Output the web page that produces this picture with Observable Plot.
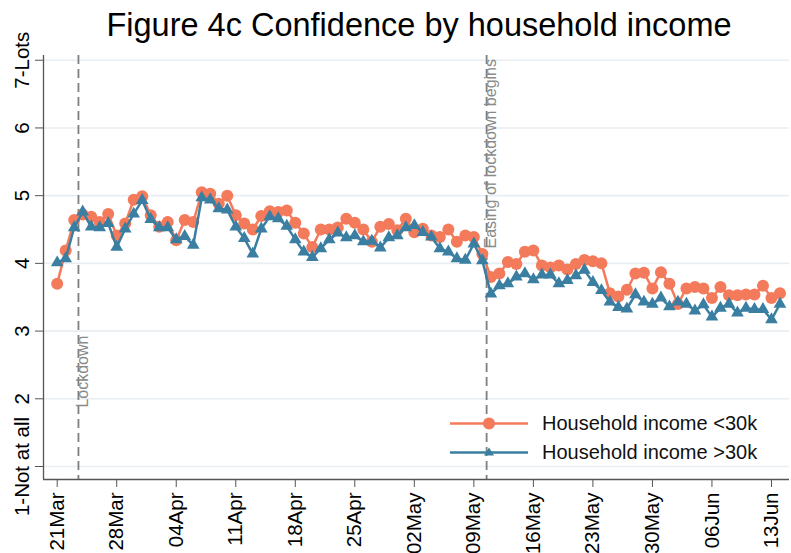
<!DOCTYPE html>
<html><head><meta charset="utf-8">
<script src="https://cdn.jsdelivr.net/npm/d3@7"></script>
<script src="https://cdn.jsdelivr.net/npm/@observablehq/plot@0.6"></script>
<style>
body{margin:0;background:#fff;font-family:"Liberation Sans",Arial,sans-serif;}
#wrap{position:relative;width:791px;height:553px;overflow:hidden;background:#fff;}
#title{height:50px;box-sizing:border-box;padding-top:9px;padding-left:47px;text-align:center;font-size:32.5px;line-height:1;color:#000;white-space:nowrap;}
#legend{position:absolute;left:450px;top:408.5px;font-size:20px;color:#111;}
.row{display:flex;align-items:center;height:29px;}
.row svg{margin-right:14px;}
</style></head><body>
<div id="wrap"><div id="title">Figure 4c Confidence by household income</div><div id="chart"></div><div id="legend"></div></div>
<script>
// ---- data ----
const startDate = "2020-03-21";
const lowIncome = [3.70,4.19,4.64,4.72,4.69,4.61,4.73,4.41,4.59,4.94,4.99,4.71,4.54,4.61,4.34,4.64,4.61,5.05,5.03,4.88,5.00,
  4.71,4.59,4.50,4.70,4.77,4.76,4.78,4.60,4.44,4.24,4.50,4.50,4.53,4.66,4.60,4.50,4.32,4.54,4.58,4.49,4.66,
  4.46,4.51,4.41,4.39,4.50,4.32,4.41,4.39,4.14,3.80,3.85,4.02,3.99,4.17,4.19,3.97,3.94,3.97,3.91,3.99,4.05,
  4.03,4.00,3.56,3.51,3.61,3.85,3.86,3.63,3.87,3.70,3.40,3.63,3.65,3.63,3.49,3.65,3.53,3.53,3.54,3.54,3.67,3.49,3.56];
const highIncome = [4.01,4.07,4.53,4.76,4.54,4.53,4.59,4.24,4.51,4.73,4.93,4.65,4.53,4.53,4.35,4.40,4.27,4.97,4.94,4.81,4.79,
  4.54,4.37,4.14,4.51,4.69,4.66,4.55,4.35,4.17,4.09,4.22,4.35,4.45,4.38,4.41,4.32,4.33,4.23,4.38,4.41,4.53,
  4.56,4.46,4.39,4.22,4.17,4.07,4.05,4.29,4.04,3.55,3.67,3.70,3.80,3.85,3.76,3.83,3.83,3.70,3.75,3.82,3.90,
  3.72,3.60,3.43,3.35,3.33,3.54,3.43,3.40,3.49,3.36,3.43,3.40,3.30,3.39,3.21,3.34,3.40,3.27,3.34,3.32,3.32,3.17,3.40];
const seriesNames = ["Household income <30k", "Household income >30k"];
const seriesColors = ["#f47a5c", "#3a7fa1"];
const yTicks = [1, 2, 3, 4, 5, 6, 7];
const yTickLabels = ["1-Not at all", "2", "3", "4", "5", "6", "7-Lots"];
const xTickDates = ["2020-03-21","2020-03-28","2020-04-04","2020-04-11","2020-04-18","2020-04-25","2020-05-02",
  "2020-05-09","2020-05-16","2020-05-23","2020-05-30","2020-06-06","2020-06-13"];
const eventDates = ["2020-03-23T12:00Z", "2020-05-10T12:00Z"];
const eventLabels = ["Lockdown", "Easing of lockdown begins"];
const eventLabelY = [1.87, 4.22];

// ---- build tables ----
const day0 = new Date(startDate + "T00:00Z");
const rows = [];
[lowIncome, highIncome].forEach((vals, s) => vals.forEach((v, i) => rows.push({date: d3.utcDay.offset(day0, i), value: v, series: seriesNames[s]})));
const low = rows.filter(r => r.series === seriesNames[0]);
const high = rows.filter(r => r.series === seriesNames[1]);
const ticks = xTickDates.map(d => new Date(d + "T00:00Z"));
const events = eventDates.map((d, i) => ({date: new Date(d), label: eventLabels[i], y: eventLabelY[i]}));
const xDomain = [new Date(day0.getTime() - 1.61 * 864e5), new Date(ticks[ticks.length - 1].getTime() + 2.12 * 864e5)];
const yDomain = [0.808, 7.07];
const axisColor = "#555";

const chart = Plot.plot({
  width: 791, height: 503,
  marginLeft: 43, marginRight: 2, marginTop: 5, marginBottom: 74,
  x: {type: "utc", domain: xDomain, axis: null},
  y: {domain: yDomain, axis: null},
  style: {fontFamily: "'Liberation Sans', Arial, sans-serif", background: "white", overflow: "visible"},
  marks: [
    Plot.ruleY(yTicks, {stroke: "#e8eef2", strokeWidth: 1.6}),
    Plot.ruleX(events, {x: "date", stroke: "#7f7f7f", strokeWidth: 1.8, strokeDasharray: "9,5"}),
    Plot.text(events, {x: "date", y: "y", text: "label", rotate: -90, textAnchor: "start", dx: 4, fill: "#8a8a8a", fontSize: 16}),
    Plot.line(low, {x: "date", y: "value", stroke: seriesColors[0], strokeWidth: 2.5}),
    Plot.dot(low, {x: "date", y: "value", r: 6, fill: seriesColors[0], symbol: "circle"}),
    Plot.line(high, {x: "date", y: "value", stroke: seriesColors[1], strokeWidth: 2.5}),
    Plot.dot(high, {x: "date", y: "value", r: 4.7, fill: seriesColors[1], symbol: "triangle"}),
    Plot.ruleX([xDomain[0]], {stroke: axisColor, strokeWidth: 1.3}),
    Plot.ruleY([yDomain[0]], {stroke: axisColor, strokeWidth: 1.3}),
    Plot.axisX(ticks, {anchor: "bottom", tickSize: 8, tickPadding: 5, tickRotate: -90, tickFormat: d3.utcFormat("%d%b"), fontSize: 20.5, stroke: axisColor, fill: "#000", label: null}),
    Plot.axisY(yTicks, {anchor: "left", tickSize: 8, tickFormat: () => "", stroke: axisColor, label: null}),
    Plot.text(yTicks, {y: d => d, text: (d, i) => yTickLabels[i], frameAnchor: "left", dx: -21, rotate: -90, textAnchor: "middle", fontSize: 20.5, fill: "#000"})
  ]
});
document.getElementById("chart").appendChild(chart);

// ---- legend ----
const legend = document.getElementById("legend");
seriesNames.forEach((name, i) => {
  const marker = i === 0
    ? `<circle cx="39" cy="14.5" r="6" fill="${seriesColors[i]}"/>`
    : `<path d="M39,9.5 L44,17.5 L34,17.5 Z" fill="${seriesColors[i]}"/>`;
  legend.insertAdjacentHTML("beforeend",
    `<div class="row"><svg width="78" height="29"><line x1="0" x2="78" y1="14.5" y2="14.5" stroke="${seriesColors[i]}" stroke-width="2.5"/>${marker}</svg><span>${name}</span></div>`);
});
</script>
</body></html>
